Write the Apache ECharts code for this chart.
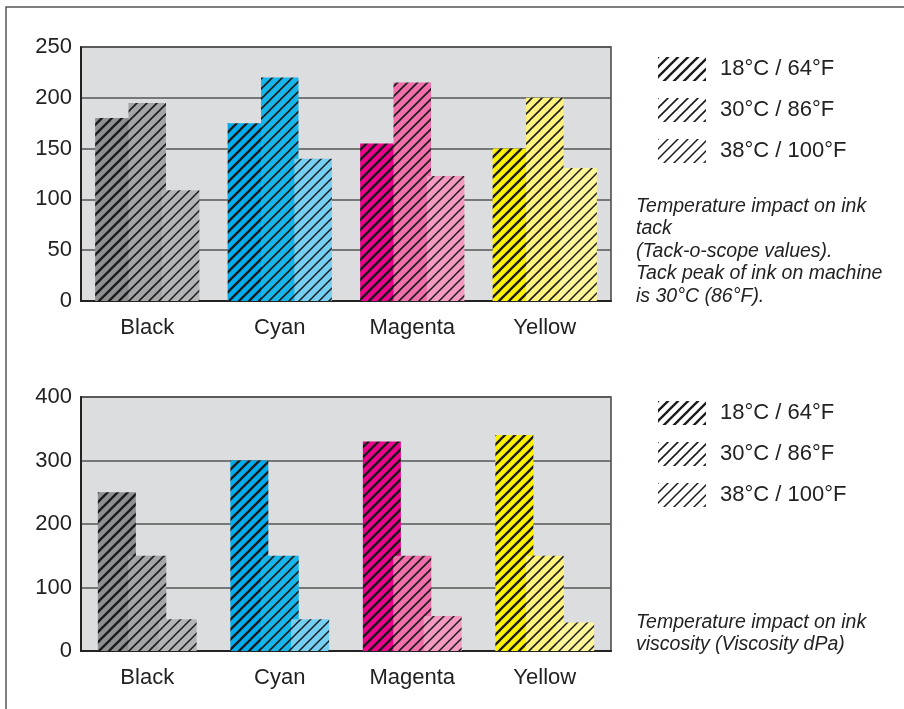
<!DOCTYPE html>
<html>
<head>
<meta charset="utf-8">
<script src="https://cdn.jsdelivr.net/npm/echarts@6/dist/echarts.min.js"></script>
<style>
html,body{margin:0;padding:0;background:#fff;}
#chart{width:904px;height:709px;}
</style>
</head>
<body>
<div id="chart"></div>
<script>
var categories = ['Black', 'Cyan', 'Magenta', 'Yellow'];
var seriesNames = ['18°C / 64°F', '30°C / 86°F', '38°C / 100°F'];
var tack18 = [180, 175, 155, 150];
var tack30 = [195, 220, 215, 200];
var tack38 = [109, 140, 123, 131];
var visc18 = [250, 300, 330, 340];
var visc30 = [150, 150, 150, 150];
var visc38 = [50, 50, 55, 45];
var tackTicks = [0, 50, 100, 150, 200, 250];
var viscTicks = [0, 100, 200, 300, 400];
var noteTack = 'Temperature impact on ink\ntack\n(Tack-o-scope values).\nTack peak of ink on machine\nis 30°C (86°F).';
var noteVisc = 'Temperature impact on ink\nviscosity (Viscosity dPa)';

// base colours per category, per temperature (dark, mid, light)
var inkColors = [
  ['#8e8f91', '#a4a5a7', '#b3b4b6'],
  ['#00aeef', '#17b6ea', '#74cff3'],
  ['#ec008c', '#f06ea9', '#f49ac1'],
  ['#fff200', '#fff37e', '#fff599']
];
var lineWidths = [2.3, 1.6, 1.5];

function hatch(bg, lw) {
  var c = document.createElement('canvas');
  var s = 10;
  c.width = s; c.height = s;
  var g = c.getContext('2d');
  if (bg) { g.fillStyle = bg; g.fillRect(0, 0, s, s); }
  g.strokeStyle = '#1a1a1a';
  g.lineWidth = lw;
  for (var k = -s; k <= s; k += s) {
    g.beginPath();
    g.moveTo(k - 1, s + 1);
    g.lineTo(k + s + 1, -1);
    g.stroke();
  }
  return { image: c, repeat: 'repeat' };
}

function makeData(values, tIdx) {
  return values.map(function (v, i) {
    return { value: v, itemStyle: { color: hatch(inkColors[i][tIdx], lineWidths[tIdx]) } };
  });
}

var font = 'Liberation Sans, Arial, Helvetica, sans-serif';
var gridLeft = 81, gridRight = 293;

function yAx(gridIndex, max, interval) {
  return {
    type: 'value', gridIndex: gridIndex, min: 0, max: max, interval: interval,
    axisLine: { show: true, lineStyle: { color: '#222', width: 2 } },
    axisTick: { show: false },
    axisLabel: { fontSize: 22, color: '#222', fontFamily: font, margin: 9 },
    splitLine: { show: true, lineStyle: { color: '#555', width: 1.5 } }
  };
}
function xAx(gridIndex) {
  return {
    type: 'category', gridIndex: gridIndex, data: categories,
    axisLine: { show: true, lineStyle: { color: '#222', width: 2 } },
    axisTick: { show: false },
    axisLabel: { fontSize: 22, color: '#222', fontFamily: font, margin: 16 }
  };
}
function legendCfg(top) {
  return {
    orient: 'vertical', left: 653, top: top,
    itemWidth: 48, itemHeight: 24, itemGap: 17,
    textStyle: { fontSize: 22, color: '#222', fontFamily: font, padding: [0, 0, 0, 9] },
    data: seriesNames.map(function (n, i) {
      return { name: n, icon: 'rect', itemStyle: { color: hatch(null, lineWidths[i]), borderWidth: 0 } };
    })
  };
}
function barSeries(name, idx, values, tIdx, width, gap) {
  return {
    type: 'bar', name: name, xAxisIndex: idx, yAxisIndex: idx,
    data: makeData(values, tIdx), barWidth: width, barGap: gap,
    animation: false
  };
}

var chart = echarts.init(document.getElementById('chart'));
chart.setOption({
  backgroundColor: '#fff',
  animation: false,
  grid: [
    { left: gridLeft, right: gridRight, top: 47, height: 254, show: true, backgroundColor: '#dcdddf', borderColor: '#444', borderWidth: 1.5 },
    { left: gridLeft, right: gridRight, top: 397, height: 254, show: true, backgroundColor: '#dcdddf', borderColor: '#444', borderWidth: 1.5 }
  ],
  xAxis: [xAx(0), xAx(1)],
  yAxis: [yAx(0, 250, 50), yAx(1, 400, 100)],
  legend: [legendCfg(52), legendCfg(396)],
  series: [
    barSeries(seriesNames[0], 0, tack18, 0, 37.5, '-11%'),
    barSeries(seriesNames[1], 0, tack30, 1, 37.5, '-11%'),
    barSeries(seriesNames[2], 0, tack38, 2, 37.5, '-11%'),
    barSeries(seriesNames[0], 1, visc18, 0, 38, '-20%'),
    barSeries(seriesNames[1], 1, visc30, 1, 38, '-20%'),
    barSeries(seriesNames[2], 1, visc38, 2, 38, '-20%')
  ],
  graphic: [
    { type: 'polyline', silent: true, shape: { points: [[6, 709], [6, 7], [904, 7]] }, style: { stroke: '#555', lineWidth: 1.5, fill: null } },
    { type: 'text', left: 636, top: 195, silent: true, style: { text: noteTack, font: 'italic 19.5px ' + font, fill: '#222', lineHeight: 22.5 } },
    { type: 'text', left: 636, top: 611, silent: true, style: { text: noteVisc, font: 'italic 19.5px ' + font, fill: '#222', lineHeight: 22.5 } }
  ]
});
</script>
</body>
</html>
